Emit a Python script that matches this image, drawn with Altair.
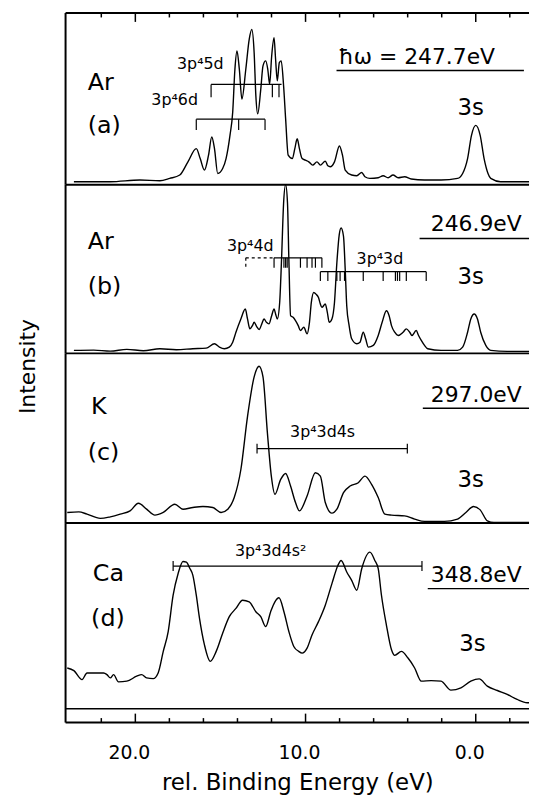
import altair as alt
import pandas as pd

FONT = "DejaVu Sans"
W = 467
X_DOMAIN = [24.1, -3.13]

# ---------------- spectra (binding energy in eV, intensity in arbitrary units) ----------------
a_ev = [23.61, 21.47, 19.73, 18.56, 17.98, 17.39, 16.91, 16.42, 16.19, 15.94,
        15.70, 15.51, 15.35, 15.16, 14.87, 14.67, 14.44, 14.28, 14.15, 14.03,
        13.89, 13.74, 13.51, 13.31, 13.16, 13.02, 12.92, 12.81, 12.63, 12.50,
        12.34, 12.22, 12.11, 11.99, 11.85, 11.76, 11.66, 11.54, 11.43, 11.29,
        11.17, 11.02, 10.78, 10.63, 10.49, 10.36, 10.20, 10.01, 9.81, 9.58,
        9.33, 9.13, 8.84, 8.69, 8.55, 8.30, 8.01, 7.83, 7.67, 7.29,
        6.99, 6.70, 6.51, 6.22, 5.73, 5.44, 5.15, 4.86, 4.56, 4.18,
        3.79, 3.01, 2.04, 1.07, 0.77, 0.48, 0.25, 0.00, -0.26, -0.49,
        -0.72, -0.88, -1.46, -3.13]
a_int = [3, 3, 4.7, 4, 6.3, 9.7, 23, 36.3, 26.3, 14.7,
         29.7, 48, 36.3, 11.3, 16.3, 26.3, 49.7, 73, 116.3, 134.7,
         116.3, 86.3, 116.3, 146.3, 156.3, 133, 89.7, 71.3, 96.3, 119.7,
         124.7, 116.3, 101.3, 129.7, 148, 126.3, 104.7, 123, 124.7, 99.7,
         66.3, 29.7, 26.3, 36.3, 46.3, 36.3, 26.3, 24.7, 23, 19.7,
         23, 19.7, 23.7, 19, 18, 23, 39, 29.7, 14.7, 9.7,
         9, 12.3, 8, 6.3, 7, 9, 7, 9.7, 7, 8,
         5.7, 4.7, 4.7, 6.3, 11.3, 26.3, 49.7, 59.7, 49.7, 26.3,
         11.3, 6.3, 3, 3]

b_ev = [23.61, 22.45, 21.47, 20.50, 19.53, 18.56, 17.59, 16.62, 15.84, 15.35,
        15.06, 14.77, 14.48, 14.28, 14.09, 13.80, 13.54, 13.41, 13.27, 13.12,
        13.02, 12.88, 12.73, 12.57, 12.44, 12.30, 12.15, 11.99, 11.85, 11.76,
        11.66, 11.52, 11.41, 11.29, 11.17, 11.06, 10.98, 10.88, 10.73, 10.59,
        10.43, 10.30, 10.10, 9.91, 9.77, 9.66, 9.52, 9.39, 9.24, 9.13,
        9.04, 8.84, 8.72, 8.61, 8.45, 8.30, 8.16, 8.02, 7.91, 7.77,
        7.67, 7.58, 7.44, 7.29, 6.99, 6.80, 6.61, 6.47, 6.31, 6.02,
        5.73, 5.50, 5.25, 5.09, 4.95, 4.76, 4.56, 4.27, 4.08, 3.88,
        3.75, 3.50, 3.36, 3.20, 3.01, 2.82, 2.04, 1.07, 0.77, 0.48,
        0.29, 0.09, -0.10, -0.29, -0.59, -0.88, -1.85, -3.13]
b_int = [3, 3.3, 2.3, 4, 2.7, 4.7, 3.7, 4.7, 5.3, 9.7,
         6.3, 4.7, 6.3, 11.3, 21.3, 34.7, 44.7, 34.7, 24.7, 28,
         31.3, 27.3, 24, 29.7, 34.7, 31.3, 29.7, 38, 44.7, 39.7,
         34.7, 51.3, 94.7, 151.3, 170, 151.3, 94.7, 38, 36.3, 33,
         28, 23, 26.3, 19.7, 31.3, 51.3, 61.3, 59.7, 56.3, 49.7,
         46.3, 49.7, 41.3, 31.3, 34.7, 51.3, 91.3, 119.7, 126.3, 118,
         84.7, 48, 28, 14.7, 9.7, 11.3, 21.3, 14.7, 6.3, 8,
         18, 31.3, 43, 38, 28, 21.3, 18, 21.3, 24.7, 21.3,
         18, 23, 18, 13, 8, 4.7, 3, 3, 6.3, 21.3,
         34.7, 39.7, 34.7, 21.3, 8, 3, 2, 2]

c_ev = [24.00, 23.32, 22.84, 22.06, 21.47, 20.89, 20.31, 19.82, 19.34, 18.85,
        18.36, 17.68, 17.20, 16.62, 16.03, 15.45, 14.96, 14.57, 14.19, 13.80,
        13.41, 13.02, 12.73, 12.50, 12.24, 12.01, 11.80, 11.46, 11.17, 10.88,
        10.59, 10.36, 9.91, 9.42, 9.13, 8.84, 8.45, 8.16, 7.77, 7.38,
        6.90, 6.51, 6.12, 5.73, 5.34, 4.95, 4.18, 3.59, 3.01, 1.84,
        1.07, 0.58, 0.13, -0.26, -0.68, -1.07, -3.13]
c_int = [10.7, 11.3, 9, 4.7, 6.3, 9, 12.3, 20, 14, 8,
         10.7, 19, 14, 15.7, 16.7, 15.7, 10.7, 14, 25.7, 54,
         107.3, 147.3, 158, 147.3, 90.7, 47.3, 29, 44, 50, 37.3,
         20.7, 12.3, 27.3, 50.7, 47.3, 20.7, 10, 14, 30.7, 37.3,
         40.7, 47.3, 39, 25.7, 9, 8, 7.3, 4, 1.7, 1.7,
         4, 10.7, 16.7, 13.3, 2.3, 0.7, 0.7]

d_ev = [24.00, 23.61, 23.13, 22.84, 21.86, 21.67, 21.47, 21.28, 20.99, 20.50,
        19.92, 19.63, 19.34, 18.95, 18.66, 18.36, 18.07, 17.78, 17.49, 17.20,
        17.00, 16.81, 16.62, 16.42, 16.23, 15.94, 15.60, 15.25, 14.87, 14.48,
        14.09, 13.70, 13.31, 12.92, 12.63, 12.34, 12.05, 11.80, 11.56, 11.27,
        10.98, 10.69, 10.40, 10.20, 9.91, 9.62, 9.24, 8.84, 8.45, 8.10,
        7.91, 7.58, 7.29, 6.99, 6.70, 6.22, 5.93, 5.73, 5.54, 5.25,
        4.95, 4.76, 4.37, 3.98, 3.59, 3.20, 2.62, 2.04, 1.46, 0.87,
        0.29, -0.20, -0.68, -1.27, -1.85, -2.43, -3.02, -3.13]
d_int = [41, 38.3, 29.3, 36, 36, 34.3, 31, 34.3, 27, 27.7,
         32.7, 34.3, 31, 30.3, 36, 57.7, 77.7, 114.3, 136, 148.3,
         147.7, 141.7, 134.3, 114.3, 91, 64.3, 47.7, 57.7, 76, 92.7,
         101, 109.3, 107.7, 97.7, 92.7, 82.7, 97.7, 107.7, 111.7, 97.7,
         77.7, 62.7, 57.7, 56, 61, 74.3, 87.7, 104.3, 126, 144.3,
         149.3, 137.7, 129.3, 119.3, 141, 157.7, 149.3, 141, 114.3, 84.3,
         59.3, 53.7, 57.7, 51, 41, 27.7, 28.3, 27.7, 18.7, 21,
         27.7, 30, 22.7, 18.3, 14.3, 9.3, 6, 6]

# ---------------- axis ticks ----------------
major_ticks = [20, 10, 0]
minor_ticks = [22, 18, 16, 14, 12, 8, 6, 4, 2, -2]
tick_labels = [20, 10, 0]

# ---------------- annotations (in data units of each panel) ----------------
elem_text = ["Ar", "Ar", "K", "Ca"]
elem_x = [22.8, 22.8, 22.6, 22.5]
elem_y = [95.7, 105, 110, 128.3]
sub_text = ["(a)", "(b)", "(c)", "(d)"]
sub_x = [22.8, 22.8, 22.8, 22.6]
sub_y = [52, 59.7, 64, 83]
energy_text = ["ħω = 247.7eV", "246.9eV", "297.0eV", "348.8eV"]
energy_x = [8.06, 2.64, 2.64, 2.64]
energy_y = [121.3, 123, 122.3, 127.7]
uline_x1 = [8.18, 3.30, 3.11, 2.82]
uline_x2 = [-2.83, -3.13, -3.13, -3.13]
uline_y = [115, 115.7, 115.7, 121]
s3_x = [1.07, 1.07, 1.07, 0.97]
s3_y = [70, 70, 36.7, 57.7]

conf_panel = ["a", "a", "b", "b", "c", "d"]
conf_text = ["3p⁴5d", "3p⁴6d", "3p⁴4d", "3p⁴3d", "3p⁴3d4s", "3p⁴3d4s²"]
conf_x = [16.18, 17.69, 13.25, 5.63, 9.0, 12.05]
conf_y = [117, 80, 103, 90, 86.7, 154.3]

# bracket bars: panel, from, to, level, dashed
bar_panel = ["a", "a", "b", "b", "b", "c", "d"]
bar_x1 = [15.55, 16.42, 13.51, 11.85, 9.13, 12.85, 17.78]
bar_x2 = [11.41, 12.38, 11.85, 9.04, 2.91, 4.02, 3.16]
bar_y = [101, 66, 96.3, 96.3, 82.3, 75, 143.7]
bar_dash = [False, False, True, False, False, False, False]

# bracket tick marks
tk_panel, tk_x, tk_y1, tk_y2, tk_dash = [], [], [], [], []
def add_ticks(p, xs_, y1, y2, dash=False):
    for v in xs_:
        tk_panel.append(p); tk_x.append(v); tk_y1.append(y1); tk_y2.append(y2); tk_dash.append(dash)

add_ticks("a", [15.55, 11.95, 11.56], 101, 88)
add_ticks("a", [16.42, 13.93, 12.38], 66, 55)
add_ticks("b", [13.51], 96.3, 86.3, True)
add_ticks("b", [11.85, 11.27, 11.17, 11.08, 10.30, 9.91, 9.62, 9.42, 9.04], 96.3, 86.3)
add_ticks("b", [9.13, 8.69, 8.16, 7.97, 7.71, 6.61, 5.44, 4.72, 4.60, 4.47, 4.08, 2.91], 82.3, 73)
add_ticks("c", [12.85, 4.02], 80, 70)
add_ticks("d", [17.78, 3.16], 148.7, 138.7)

bars = pd.DataFrame({"p": bar_panel, "x1": bar_x1, "x2": bar_x2, "y": bar_y, "dash": bar_dash})
ticks = pd.DataFrame({"p": tk_panel, "x": tk_x, "y1": tk_y1, "y2": tk_y2, "dash": tk_dash})
confs = pd.DataFrame({"p": conf_panel, "x": conf_x, "y": conf_y, "t": conf_text})

# ---------------- chart ----------------
panels = ["a", "b", "c", "d"]
heights = [173, 170, 171, 201]
ydomains = [[0, 173], [0, 170], [0, 171], [-14, 187]]
spectra_ev = [a_ev, b_ev, c_ev, d_ev]
spectra_int = [a_int, b_int, c_int, d_int]

xs = alt.Scale(domain=X_DOMAIN, nice=False, zero=False)

BOTTOM_AXIS = alt.Axis(
    values=tick_labels, format=".1f", labelFont=FONT, labelFontSize=19,
    labelColor="black", labelOffset=-6.5, labelPadding=21, labelFlush=False,
    ticks=False, tickSize=0, domain=False, grid=False,
    title="rel. Binding Energy (eV)", titleFont=FONT, titleFontSize=23,
    titleFontWeight="normal", titleColor="black", titlePadding=9)

charts = []
for i, p in enumerate(panels):
    H = heights[i]
    ys = alt.Scale(domain=ydomains[i], nice=False, zero=False)
    xax = BOTTOM_AXIS if p == "d" else None

    def X(f):
        return alt.X(f"{f}:Q", scale=xs, axis=xax)

    def Y(f):
        return alt.Y(f"{f}:Q", scale=ys, axis=None)

    layers = []
    spec = pd.DataFrame({"ev": spectra_ev[i], "I": spectra_int[i]})
    layers.append(alt.Chart(spec).mark_line(color="black", strokeWidth=1.4, interpolate="monotone")
                  .encode(x=X("ev"), y=Y("I")))

    lab = pd.DataFrame({"x": [elem_x[i], sub_x[i]], "y": [elem_y[i], sub_y[i]], "t": [elem_text[i], sub_text[i]]})
    layers.append(alt.Chart(lab).mark_text(font=FONT, fontSize=24, align="left", baseline="alphabetic", color="black")
                  .encode(x=X("x"), y=Y("y"), text="t:N"))

    en = pd.DataFrame({"x": [energy_x[i]], "y": [energy_y[i]], "t": [energy_text[i]]})
    layers.append(alt.Chart(en).mark_text(font=FONT, fontSize=22, align="left", baseline="alphabetic", color="black")
                  .encode(x=X("x"), y=Y("y"), text="t:N"))

    ul = pd.DataFrame({"x1": [uline_x1[i]], "x2": [uline_x2[i]], "y": [uline_y[i]]})
    layers.append(alt.Chart(ul).mark_rule(color="black", strokeWidth=1.4)
                  .encode(x=X("x1"), x2="x2:Q", y=Y("y")))

    s3 = pd.DataFrame({"x": [s3_x[i]], "y": [s3_y[i]], "t": ["3s"]})
    layers.append(alt.Chart(s3).mark_text(font=FONT, fontSize=23, align="left", baseline="alphabetic", color="black")
                  .encode(x=X("x"), y=Y("y"), text="t:N"))

    cf = confs[confs.p == p]
    if len(cf):
        layers.append(alt.Chart(cf).mark_text(font=FONT, fontSize=16, align="center", baseline="alphabetic", color="black")
                      .encode(x=X("x"), y=Y("y"), text="t:N"))

    for dash in (False, True):
        bb = bars[(bars.p == p) & (bars.dash == dash)]
        tt = ticks[(ticks.p == p) & (ticks.dash == dash)]
        kw = {"strokeDash": [3, 3]} if dash else {}
        if len(bb):
            layers.append(alt.Chart(bb).mark_rule(color="black", strokeWidth=1.2, **kw)
                          .encode(x=X("x1"), x2="x2:Q", y=Y("y")))
        if len(tt):
            layers.append(alt.Chart(tt).mark_rule(color="black", strokeWidth=1.2, **kw)
                          .encode(x=X("x"), y=Y("y1"), y2="y2:Q"))

    frame_df = pd.DataFrame({"k": [0]})
    layers.append(alt.Chart(frame_df).mark_rule(color="black", strokeWidth=2)
                  .encode(x=alt.value(0), y=alt.value(0), y2=alt.value(H)))
    layers.append(alt.Chart(frame_df).mark_rule(color="black", strokeWidth=2)
                  .encode(y=alt.value(H), x=alt.value(0), x2=alt.value(W)))

    if p == "a":
        layers.append(alt.Chart(frame_df).mark_rule(color="black", strokeWidth=2)
                      .encode(y=alt.value(0), x=alt.value(0), x2=alt.value(W)))
        layers.append(alt.Chart(pd.DataFrame({"x": major_ticks})).mark_rule(color="black", strokeWidth=1.5)
                      .encode(x=X("x"), y=alt.value(0), y2=alt.value(9)))
        layers.append(alt.Chart(pd.DataFrame({"x": minor_ticks})).mark_rule(color="black", strokeWidth=1.5)
                      .encode(x=X("x"), y=alt.value(0), y2=alt.value(4.5)))
    if p == "d":
        layers.append(alt.Chart(pd.DataFrame({"y": [0]})).mark_rule(color="black", strokeWidth=1.5)
                      .encode(y=Y("y"), x=alt.value(0), x2=alt.value(W)))
        layers.append(alt.Chart(pd.DataFrame({"x": major_ticks})).mark_rule(color="black", strokeWidth=1.5)
                      .encode(x=X("x"), y=alt.value(H), y2=alt.value(H - 9)))
        layers.append(alt.Chart(pd.DataFrame({"x": minor_ticks})).mark_rule(color="black", strokeWidth=1.5)
                      .encode(x=X("x"), y=alt.value(H), y2=alt.value(H - 4.5)))
    if p == "c":
        layers.append(alt.Chart(pd.DataFrame({"t": ["Intensity"]}))
                      .mark_text(font=FONT, fontSize=22, angle=270, align="center", baseline="middle", color="black")
                      .encode(text="t:N", x=alt.value(-38), y=alt.value(13.3)))

    charts.append(alt.layer(*layers).properties(width=W, height=H))

chart = (alt.vconcat(*charts, spacing=0, bounds="flush")
         .resolve_scale(x="independent", y="independent")
         .properties(padding={"left": 8, "top": 1, "right": 0, "bottom": 0})
         .configure_view(strokeOpacity=0))

chart.save("out.html", embed_options={"renderer": "svg", "actions": False})
